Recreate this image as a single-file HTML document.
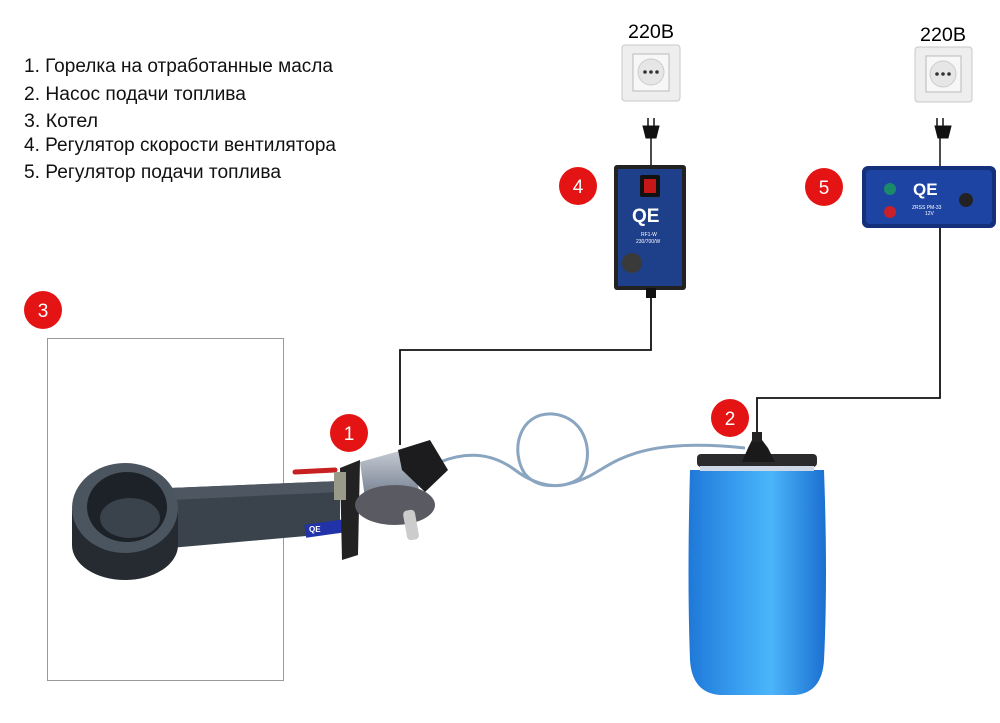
<!DOCTYPE html>
<html><head><meta charset="utf-8"><style>
html,body{margin:0;padding:0;background:#fff;width:1000px;height:723px;overflow:hidden}
svg{display:block}
text{font-family:"Liberation Sans",sans-serif}
</style></head><body>
<svg width="1000" height="723" viewBox="0 0 1000 723" xmlns="http://www.w3.org/2000/svg">
<defs>
<linearGradient id="barrel" x1="0" x2="1" y1="0" y2="0">
<stop offset="0" stop-color="#1f78d8"/><stop offset="0.45" stop-color="#3fa8f5"/><stop offset="0.6" stop-color="#4cb5fa"/><stop offset="1" stop-color="#1a6fd0"/>
</linearGradient>
<linearGradient id="cyl" x1="0" x2="0" y1="0" y2="1">
<stop offset="0" stop-color="#c9ced6"/><stop offset="0.5" stop-color="#8b95a3"/><stop offset="1" stop-color="#4d5663"/>
</linearGradient>
</defs>
<g font-size="19" fill="#111">
<text x="24" y="72" textLength="309" lengthAdjust="spacingAndGlyphs">1. Горелка на отработанные масла</text>
<text x="24" y="100" textLength="222" lengthAdjust="spacingAndGlyphs">2. Насос подачи топлива</text>
<text x="24" y="127" textLength="74" lengthAdjust="spacingAndGlyphs">3. Котел</text>
<text x="24" y="151" textLength="312" lengthAdjust="spacingAndGlyphs">4. Регулятор скорости вентилятора</text>
<text x="24" y="178" textLength="257" lengthAdjust="spacingAndGlyphs">5. Регулятор подачи топлива</text>
</g>
<text x="628" y="38" font-size="19" textLength="46" lengthAdjust="spacingAndGlyphs">220В</text>
<text x="920" y="41" font-size="19" textLength="46" lengthAdjust="spacingAndGlyphs">220В</text>
<g>
<rect x="622" y="45" width="58" height="56" rx="3" fill="#eee" stroke="#c8c8c8"/>
<rect x="633" y="54" width="36" height="37" fill="#f7f7f7" stroke="#bbb"/>
<circle cx="651" cy="72" r="13" fill="#e6e6e6" stroke="#ccc"/>
<circle cx="645" cy="72" r="1.8" fill="#333"/><circle cx="651" cy="72" r="1.8" fill="#333"/><circle cx="657" cy="72" r="1.8" fill="#333"/>
<rect x="915" y="47" width="57" height="55" rx="3" fill="#eee" stroke="#c8c8c8"/>
<rect x="926" y="56" width="35" height="36" fill="#f7f7f7" stroke="#bbb"/>
<circle cx="943" cy="74" r="13" fill="#e6e6e6" stroke="#ccc"/>
<circle cx="937" cy="74" r="1.8" fill="#333"/><circle cx="943" cy="74" r="1.8" fill="#333"/><circle cx="949" cy="74" r="1.8" fill="#333"/>
</g>
<g fill="#111" stroke="#111">
<line x1="648" y1="118" x2="648" y2="126" stroke-width="1.5"/><line x1="654" y1="118" x2="654" y2="126" stroke-width="1.5"/>
<path d="M643 126 h16 l-3 12 h-10 z"/>
<line x1="651" y1="138" x2="651" y2="166" stroke-width="1.5"/>
<line x1="937" y1="118" x2="937" y2="126" stroke-width="1.5"/><line x1="943" y1="118" x2="943" y2="126" stroke-width="1.5"/>
<path d="M935 126 h16 l-3 12 h-10 z"/>
<line x1="940" y1="138" x2="940" y2="166" stroke-width="1.5"/>
</g>
<g fill="none" stroke="#111" stroke-width="1.8">
<polyline points="651,290 651,350 400,350 400,445"/>
<polyline points="940,228 940,398 757,398 757,440"/>
</g>
<rect x="614" y="165" width="72" height="125" rx="3" fill="#222"/>
<rect x="618" y="169" width="64" height="117" fill="#1e3f8a"/>
<rect x="640" y="175" width="20" height="22" rx="2" fill="#111"/>
<rect x="644" y="179" width="12" height="14" fill="#c41818"/>
<text x="632" y="222" font-size="19" font-weight="bold" fill="#fff">QE</text>
<text x="641" y="236" font-size="5" fill="#fff">RF1-W</text>
<text x="636" y="243" font-size="5" fill="#fff">230/700/W</text>
<circle cx="632" cy="263" r="10" fill="#3a3a3a"/>
<rect x="646" y="288" width="10" height="10" fill="#111"/>
<rect x="862" y="166" width="134" height="62" rx="6" fill="#15307a"/>
<rect x="866" y="170" width="126" height="54" rx="4" fill="#1d44a3"/>
<circle cx="890" cy="189" r="6" fill="#1a8a6a"/>
<circle cx="890" cy="212" r="6" fill="#c8202a"/>
<text x="913" y="195" font-size="17" font-weight="bold" fill="#fff">QE</text>
<text x="912" y="209" font-size="5" fill="#fff">ZRSS PM-33</text>
<text x="925" y="215" font-size="5" fill="#fff">12V</text>
<circle cx="966" cy="200" r="7" fill="#222"/>
<g fill="#e41414">
<circle cx="578" cy="186" r="19"/><circle cx="824" cy="187" r="19"/>
<circle cx="43" cy="310" r="19"/><circle cx="349" cy="433" r="19"/><circle cx="730" cy="418" r="19"/>
</g>
<g fill="#fff" font-size="19" text-anchor="middle">
<text x="578" y="193">4</text><text x="824" y="194">5</text><text x="43" y="317">3</text><text x="349" y="440">1</text><text x="730" y="425">2</text>
</g>
<rect x="47.5" y="338.5" width="236" height="342" fill="none" stroke="#999" stroke-width="1"/>
<path d="M440,462 C470,450 495,455 515,470 C535,485 560,492 580,478 C594,460 590,418 553,414 C518,412 510,452 525,474 C540,492 572,488 600,470 C620,458 650,438 745,448" fill="none" stroke="#8aa5c0" stroke-width="3"/>
<!-- burner -->
<path d="M170,488 L340,481 L340,533 L170,548 Z" fill="#3a424c"/>
<path d="M170,488 L340,481 L340,492 L170,500 Z" fill="#4e5761"/>
<path d="M72,510 L72,545 A53,35 0 0 0 178,545 L178,510 Z" fill="#262b31"/>
<ellipse cx="125" cy="508" rx="53" ry="45" fill="#4b5560"/>
<ellipse cx="127" cy="507" rx="40" ry="35" fill="#1d2228"/>
<ellipse cx="130" cy="518" rx="30" ry="20" fill="#3a424c"/>
<rect x="305" y="522" width="40" height="13" fill="#2233aa" transform="rotate(-8 325 528)"/>
<text x="309" y="532" font-size="8" font-weight="bold" fill="#fff">QE</text>
<path d="M340,468 L360,460 L358,555 L342,560 Z" fill="#222"/>
<path d="M295,472 L335,470" stroke="#c82020" stroke-width="5" stroke-linecap="round"/>
<rect x="334" y="472" width="12" height="28" fill="#9a9a88"/>
<path d="M360,462 L410,448 L420,495 L368,520 Z" fill="url(#cyl)"/>
<ellipse cx="395" cy="505" rx="40" ry="20" fill="#5a5a62"/>
<path d="M398,450 L430,440 L448,470 L425,492 L402,470 Z" fill="#1c1c1e"/>
<rect x="405" y="510" width="12" height="30" rx="4" fill="#ccc" transform="rotate(-10 411 525)"/>
<!-- barrel -->
<path d="M690,470 Q687,580 690,660 Q692,693 720,695 L795,695 Q822,693 824,660 Q828,580 824,470 Z" fill="url(#barrel)"/>
<rect x="697" y="454" width="120" height="13" rx="4" fill="#2b2b2e"/>
<rect x="700" y="466" width="114" height="5" fill="#cfd8e6"/>
<path d="M742,462 L775,462 L768,448 L762,440 L752,440 L748,448 Z" fill="#1a1a1a"/>
<rect x="752" y="432" width="10" height="10" fill="#222"/>
</svg>
</body></html>
